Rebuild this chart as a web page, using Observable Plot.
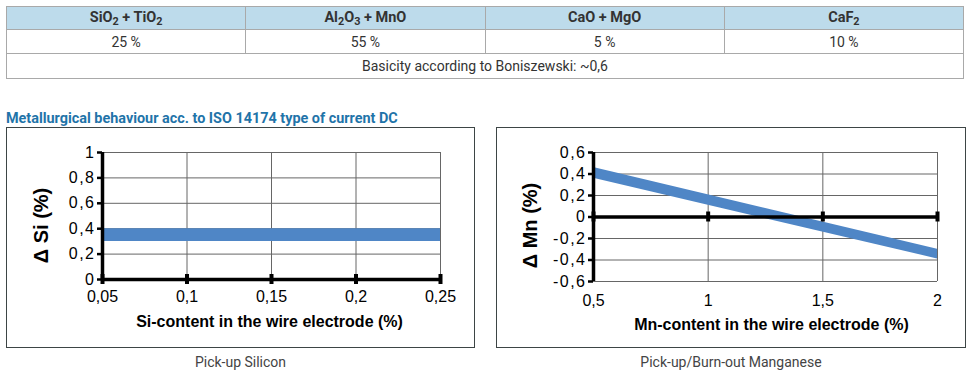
<!DOCTYPE html>
<html>
<head>
<meta charset="utf-8">
<script src="https://cdn.jsdelivr.net/npm/d3@7"></script>
<script src="https://cdn.jsdelivr.net/npm/@observablehq/plot@0.6"></script>
<style>
  html, body { margin: 0; padding: 0; background: #fff; }
  body { width: 968px; height: 378px; position: relative; overflow: hidden; font-family: Roboto, "Noto Sans", sans-serif; color: #333; }
  table.comp { position: absolute; left: 6px; top: 6px; width: 958px; border-collapse: collapse; table-layout: fixed; font-size: 14px; }
  table.comp td, table.comp th { border: 1px solid #a9a9a9; text-align: center; padding: 0; line-height: 1; }
  table.comp th { background: #bddbeb; font-weight: bold; font-size: 14.5px; height: 22px; color: #333; }
  table.comp tr.vals td { height: 23px; }
  table.comp tr.note td { height: 24px; }
  sub { font-size: 0.75em; vertical-align: -0.3em; line-height: 0; }
  .title { position: absolute; left: 6px; top: 110px; font-weight: bold; font-size: 14.4px; color: #1f74a9; white-space: nowrap; }
  .box { position: absolute; top: 127px; height: 221px; box-sizing: border-box; border: 1px solid #3d4545; background: #fff; }
  .box svg { display: block; }
  .box g[aria-label="y-axis tick label"] text { letter-spacing: 1.5px; }
  .cap { position: absolute; top: 354px; font-size: 14px; color: #444; text-align: center; }
</style>
</head>
<body>
<script>
// ---- Table data ----
const compHeaders = ["SiO<sub>2</sub> + TiO<sub>2</sub>", "Al<sub>2</sub>O<sub>3</sub> + MnO", "CaO + MgO", "CaF<sub>2</sub>"];
const compValues = ["25 %", "55 %", "5 %", "10 %"];
const basicityNote = "Basicity according to Boniszewski: ~0,6";
const sectionTitle = "Metallurgical behaviour acc. to ISO 14174 type of current DC";

// ---- Chart 1: Pick-up Silicon ----
const siX = [0.05, 0.25];
const siLow = [0.3, 0.3];
const siHigh = [0.4, 0.4];
const siXTicks = [0.05, 0.1, 0.15, 0.2, 0.25];
const siYTicks = [0, 0.2, 0.4, 0.6, 0.8, 1];
const siXLabel = "Si-content in the wire electrode (%)";
const siYLabel = "Δ Si (%)";
const siCaption = "Pick-up Silicon";

// ---- Chart 2: Pick-up/Burn-out Manganese ----
const mnX = [0.5, 2];
const mnLow = [0.36, -0.39];
const mnHigh = [0.46, -0.30];
const mnXTicks = [0.5, 1, 1.5, 2];
const mnYTicks = [-0.6, -0.4, -0.2, 0, 0.2, 0.4, 0.6];
const mnXLabel = "Mn-content in the wire electrode (%)";
const mnYLabel = "Δ Mn (%)";
const mnCaption = "Pick-up/Burn-out Manganese";

const bandColor = "#4f86c6";
const gridColor = "#666";
const fmt = d => String(d).replace(".", ",");

// ---- Build table ----
const table = document.createElement("table");
table.className = "comp";
const hr = document.createElement("tr");
compHeaders.forEach(h => { const th = document.createElement("th"); th.innerHTML = h; hr.appendChild(th); });
const vr = document.createElement("tr"); vr.className = "vals";
compValues.forEach(v => { const td = document.createElement("td"); td.textContent = v; vr.appendChild(td); });
const nr = document.createElement("tr"); nr.className = "note";
const ntd = document.createElement("td"); ntd.colSpan = 4; ntd.textContent = basicityNote; nr.appendChild(ntd);
table.append(hr, vr, nr);
document.body.appendChild(table);

const t = document.createElement("div"); t.className = "title"; t.textContent = sectionTitle;
document.body.appendChild(t);

function chart({xs, lo, hi, xTicks, yTicks, xDomain, yDomain, axisY0, xLabel, yLabel, w, ml, mr, mb, xPad, xlDx, xlDy, ylDx, ylDy}) {
  const band = xs.map((x, i) => ({x, lo: lo[i], hi: hi[i]}));
  return Plot.plot({
    width: w, height: 219,
    marginLeft: ml, marginRight: mr, marginTop: 24, marginBottom: mb,
    x: {domain: xDomain}, y: {domain: yDomain},
    style: {fontFamily: "'Liberation Sans', Arial, sans-serif", fontSize: "16px", color: "#000", background: "white", overflow: "visible"},
    marks: [
      Plot.gridX(xTicks, {stroke: gridColor, strokeOpacity: 1, strokeWidth: 1}),
      Plot.gridY(yTicks, {stroke: gridColor, strokeOpacity: 1, strokeWidth: 1}),
      Plot.areaY(band, {x: "x", y1: "lo", y2: "hi", fill: bandColor}),
      Plot.ruleY([axisY0], {stroke: "#000", strokeWidth: 3.5}),
      Plot.ruleX([xDomain[0]], {stroke: "#000", strokeWidth: 3.5}),
      Plot.ruleX(xTicks, {y1: axisY0, y2: axisY0, insetTop: -5, insetBottom: -5, stroke: "#000", strokeWidth: 4}),
      Plot.axisY(yTicks, {tickSize: 5, tickPadding: 2, strokeWidth: 2.5, tickFormat: fmt, label: null, fontSize: 16}),
      Plot.axisX(xTicks, {tickSize: 0, tickPadding: xPad, tickFormat: fmt, label: null, fontSize: 16}),
      Plot.text([xLabel], {frameAnchor: "bottom", dx: xlDx, dy: xlDy, lineAnchor: "middle", textAnchor: "middle", fontWeight: "bold", fontSize: 16, fill: "#000"}),
      Plot.text([yLabel], {frameAnchor: "left", rotate: -90, dx: ylDx, dy: ylDy, lineAnchor: "middle", textAnchor: "middle", fontWeight: "bold", fontSize: 20, fill: "#000"})
    ]
  });
}

function addBox(left, width, svg, caption) {
  const box = document.createElement("div");
  box.className = "box";
  box.style.left = left + "px";
  box.style.width = width + "px";
  box.appendChild(svg);
  document.body.appendChild(box);
  const c = document.createElement("div");
  c.className = "cap";
  c.style.left = left + "px";
  c.style.width = width + "px";
  c.textContent = caption;
  document.body.appendChild(c);
}

addBox(6, 469, chart({
  xs: siX, lo: siLow, hi: siHigh, xTicks: siXTicks, yTicks: siYTicks,
  xDomain: [0.05, 0.25], yDomain: [0, 1], axisY0: 0,
  xLabel: siXLabel, yLabel: siYLabel,
  w: 467, ml: 95, mr: 34, mb: 68, xPad: 11, xlDx: -2, xlDy: 42, ylDx: -61, ylDy: 9.5
}), siCaption);

addBox(496, 470, chart({
  xs: mnX, lo: mnLow, hi: mnHigh, xTicks: mnXTicks, yTicks: mnYTicks,
  xDomain: [0.5, 2], yDomain: [-0.6, 0.6], axisY0: 0,
  xLabel: mnXLabel, yLabel: mnYLabel,
  w: 468, ml: 96, mr: 28, mb: 66, xPad: 13, xlDx: 6, xlDy: 43, ylDx: -63, ylDy: 8.5
}), mnCaption);
</script>
</body>
</html>
